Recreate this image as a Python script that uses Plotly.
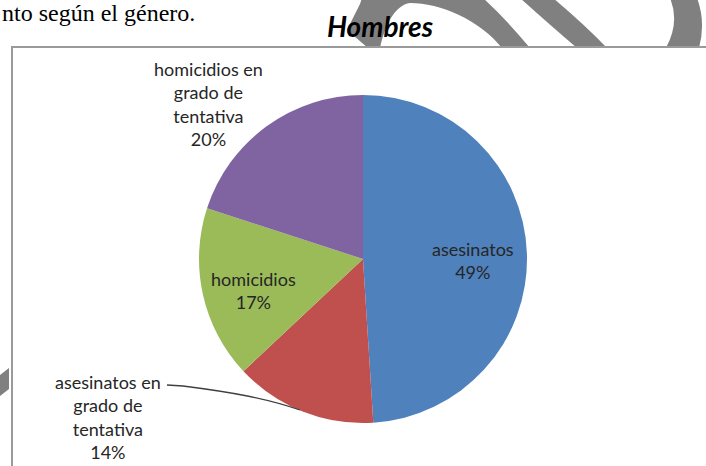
import plotly.graph_objects as go

# ---- data ----
categories = ["asesinatos", "asesinatos en grado de tentativa", "homicidios",
              "homicidios en grado de tentativa"]
display_labels = ["asesinatos", "asesinatos en<br>grado de<br>tentativa", "homicidios",
                  "homicidios en<br>grado de<br>tentativa"]
values = [49, 14, 17, 20]
colors = ["#4F81BD", "#C0504D", "#9BBB59", "#8064A2"]
title_text = "Hombres"
page_text = "nto según el género."

W, H = 706, 466


def px(x):
    return x / W


def py(y):
    return 1 - y / H


# pie geometry (pixels)
cx, cy, r = 363, 259, 164

fig = go.Figure()
fig.add_trace(go.Pie(
    labels=categories,
    values=values,
    sort=False,
    direction="clockwise",
    rotation=0,
    marker=dict(colors=colors, line=dict(width=0)),
    textinfo="none",
    hoverinfo="label+percent",
    showlegend=False,
    domain=dict(x=[px(cx - r), px(cx + r)], y=[py(cy + r), py(cy - r)]),
))

total = sum(values)
pct = [f"{round(v * 100 / total)}%" for v in values]

# label positions (pixels) and annotation texts built from data
label_pos = [(473, 260), (108, 417), (253, 290), (208, 104)]
annotations = []
for lbl, p, (lx, ly) in zip(display_labels, pct, label_pos):
    annotations.append(dict(
        x=px(lx), y=py(ly), xref="paper", yref="paper",
        text=f"{lbl}<br>{p}", showarrow=False, align="center",
        xanchor="center", yanchor="middle",
        font=dict(family="Lato", size=18, color="#262626"),
    ))

# page text fragment above the chart
annotations.append(dict(
    x=px(0), y=py(13), xref="paper", yref="paper", text=page_text,
    showarrow=False, xanchor="left", yanchor="middle",
    font=dict(family="Liberation Serif", size=24, color="#000000"),
))


def path(points, close=True):
    s = "M " + " L ".join(f"{px(x):.5f},{py(y):.5f}" for x, y in points)
    return s + (" Z" if close else "")


def cpath(cmds):
    out = []
    for c, pts in cmds:
        out.append(c + " " + " ".join(f"{px(x):.5f},{py(y):.5f}" for x, y in pts))
    return " ".join(out)


grey = "#808080"
shapes = []
# watermark bands
shapes.append(dict(type="path", xref="paper", yref="paper", layer="below",
                   path=cpath([("M", [(347, 30)]), ("L", [(360, 4)]), ("L", [(362, -2)]),
                               ("L", [(483, -2)]), ("Q", [(505, 18), (530, 48)]),
                               ("L", [(502, 48)]),
                               ("C", [(480, 20), (440, 3), (410, 3)]),
                               ("C", [(395, 5), (385, 25), (380, 48)]),
                               ("L", [(368, 48)]), ("Z", [])]),
                   fillcolor=grey, line=dict(width=0)))
shapes.append(dict(type="path", xref="paper", yref="paper", layer="below",
                   path=cpath([("M", [(520, -2)]), ("L", [(553, -2)]),
                               ("Q", [(585, 25), (607, 48)]), ("L", [(577, 48)]),
                               ("Q", [(550, 25), (520, -2)]), ("Z", [])]),
                   fillcolor=grey, line=dict(width=0)))
shapes.append(dict(type="path", xref="paper", yref="paper", layer="below",
                   path=cpath([("M", [(670, -2)]), ("L", [(697, -2)]),
                               ("Q", [(706, 22), (699, 48)]), ("L", [(666, 48)]),
                               ("Q", [(680, 22), (670, -2)]), ("Z", [])]),
                   fillcolor=grey, line=dict(width=0)))
shapes.append(dict(type="path", xref="paper", yref="paper", layer="below",
                   path=path([(0, 375), (9, 368), (9, 389), (0, 396)]),
                   fillcolor=grey, line=dict(width=0)))
# chart box
shapes.append(dict(type="rect", xref="paper", yref="paper", layer="below",
                   x0=px(12), x1=px(712), y0=py(47), y1=py(480),
                   fillcolor="white", line=dict(color="#9a9a9a", width=2)))
# leader line for the small slice label
shapes.append(dict(type="path", xref="paper", yref="paper", layer="above",
                   path=cpath([("M", [(167, 385)]), ("L", [(183, 386)]),
                               ("C", [(230, 392), (265, 398), (300, 410)])]),
                   line=dict(color="#404040", width=1.3)))

fig.update_layout(
    width=W, height=H,
    margin=dict(l=0, r=0, t=0, b=0),
    paper_bgcolor="white",
    plot_bgcolor="white",
    title=dict(text=title_text, x=px(380), xanchor="center",
               y=py(27), yanchor="middle", yref="container", xref="container",
               font=dict(family="Lato", size=28, color="#000000",
                         weight="bold", style="italic")),
    annotations=annotations,
    shapes=shapes,
)

fig.write_html("out.html",
               config={"displayModeBar": False},
               post_script="document.body.style.margin='0';"
                           "document.body.style.overflow='hidden';")
